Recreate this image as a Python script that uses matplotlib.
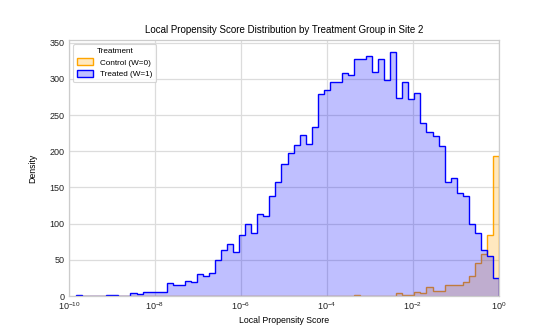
import numpy as np
import matplotlib
matplotlib.use("Agg")
import matplotlib.pyplot as plt
import matplotlib.ticker as mticker

plt.rcParams['font.family'] = ['Liberation Sans', 'DejaVu Sans']

# ── data (bin counts, log10 bins) ────────────────────────────────────────────
log_lo, log_hi, n_bins = -9.83, 0.0, 70

treated = [1, 0, 0, 0, 0, 1, 1, 0, 0, 4,
           3, 5, 5, 6, 6, 18, 15, 15, 21, 20,
           31, 28, 32, 50, 64, 72, 61, 85, 100, 87,
           114, 110, 138, 158, 182, 198, 209, 222, 210, 233,
           279, 285, 296, 296, 308, 306, 327, 327, 331, 310,
           327, 299, 337, 273, 296, 272, 281, 239, 226, 221,
           207, 157, 163, 143, 138, 100, 87, 64, 55, 25]

control = [0] * 46 + [1, 0, 0, 0, 0, 0, 0, 4, 1, 2,
                      5, 4, 12, 7, 7, 15, 15, 15, 19, 27,
                      46, 58, 84, 193]

groups = ["Control (W=0)", "Treated (W=1)"]
colors = ["orange", "blue"]

edges = np.logspace(log_lo, log_hi, n_bins + 1)

# ── plot ─────────────────────────────────────────────────────────────────────
fig = plt.figure(figsize=(5.55, 3.33), dpi=100)
ax = fig.add_axes([0.124, 0.111, 0.775, 0.769])

for vals, label, c in zip([control, treated], groups, colors):
    rgba = matplotlib.colors.to_rgba(c, 0.25)
    ax.stairs(vals, edges, fill=True, facecolor=rgba, edgecolor=c,
              linewidth=1.0, label=label)

ax.set_xscale("log")
ax.set_xlim(1e-10, 1e0)
ax.set_ylim(0, max(treated + control) * 1.05)
ax.xaxis.set_major_locator(mticker.LogLocator(base=10, numticks=6))
ax.xaxis.set_minor_locator(mticker.NullLocator())
ax.yaxis.set_major_locator(mticker.MultipleLocator(50))

ax.set_axisbelow(True)
ax.grid(True, color="#dcdcdc", linewidth=0.9)
for s in ax.spines.values():
    s.set_color("#cccccc")
    s.set_linewidth(0.9)
ax.tick_params(length=0, labelsize=6.5, pad=3, colors="#222222")

ax.set_title("Local Propensity Score Distribution by Treatment Group in Site 2",
             fontsize=7.0, pad=5)
ax.set_xlabel("Local Propensity Score", fontsize=6.3, labelpad=3)
ax.set_ylabel("Density", fontsize=6.3, labelpad=9)

leg = ax.legend(title="Treatment", loc="upper left", fontsize=5.9,
                title_fontsize=5.9, frameon=True, borderpad=0.5,
                handlelength=2.0, handleheight=0.9, labelspacing=0.4)
leg.get_frame().set_edgecolor("#cccccc")
leg.get_frame().set_linewidth(0.8)

fig.savefig("out.png", dpi=100)
